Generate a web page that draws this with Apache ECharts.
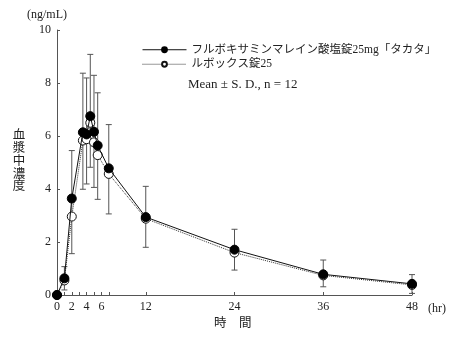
<!DOCTYPE html>
<html><head><meta charset="utf-8">
<script src="https://cdn.jsdelivr.net/npm/echarts@6/dist/echarts.min.js"></script>
<style>html,body{margin:0;padding:0;background:#fff}#c{width:464px;height:340px}</style>
</head><body><div id="c"></div>
<script>
const times = [0, 1, 2, 3.5, 4, 4.5, 5, 5.5, 7, 12, 24, 36, 48];
const meanA = [0, 0.63, 3.64, 6.14, 6.06, 6.75, 6.16, 5.64, 4.78, 2.94, 1.71, 0.78, 0.42];
const meanB = [0, 0.55, 2.96, 5.83, 5.88, 6.5, 5.76, 5.28, 4.57, 2.88, 1.60, 0.74, 0.38];
const sdUpper = [null, 1.07, 5.45, 8.37, 8.19, 9.08, 8.29, 7.63, 6.43, 4.10, 2.48, 1.32, 0.77];
const sdLower = [null, 0.19, 1.56, 3.99, 4.19, 4.82, 4.06, 3.61, 3.06, 1.80, 0.94, 0.31, 0.06];
const xTicks = [0, 1, 2, 3, 4, 5, 6, 7, 12, 24, 36, 48];
const xLabels = [0, 2, 4, 6, 12, 24, 36, 48];
const nameA = 'フルボキサミンマレイン酸塩錠25mg「タカタ」';
const nameB = 'ルボックス錠25';
const yName = ['血', '漿', '中', '濃', '度'];

const FONT = '"Liberation Serif", "DejaVu Serif", "Noto Sans CJK JP", serif';
const chart = echarts.init(document.getElementById('c'));
const errData = times.map((t, i) => [t, sdLower[i], sdUpper[i]]).filter(d => d[1] != null);

const graphics = [
  { type: 'text', left: 27, top: 9, style: { text: '(ng/mL)', font: '12px ' + FONT, fill: '#222' } },
  { type: 'text', left: 428, top: 303, style: { text: '(hr)', font: '12px ' + FONT, fill: '#222' } },
  { type: 'text', left: 214, top: 317, style: { text: '時　間', font: '12.5px ' + FONT, fill: '#222' } },
  { type: 'text', left: 188, top: 78, style: { text: 'Mean ± S. D., n = 12', font: '13px ' + FONT, fill: '#222' } }
];
yName.forEach((ch, i) => {
  graphics.push({ type: 'text', x: 19, y: 136 + i * 12.8, style: { text: ch, font: '12.5px ' + FONT, fill: '#222', align: 'center', verticalAlign: 'middle' } });
});

chart.setOption({
  animation: false,
  textStyle: { fontFamily: FONT, color: '#222' },
  grid: { left: 57, right: 52, top: 30, bottom: 45 },
  legend: {
    left: 137, top: 39, orient: 'vertical', itemGap: 3, itemWidth: 44, itemHeight: 6,
    textStyle: { fontFamily: FONT, fontSize: 11.5, color: '#222' },
    lineStyle: { width: 1 },
    data: [nameA, nameB]
  },
  graphic: graphics,
  xAxis: {
    type: 'value', min: 0, max: 48,
    axisLine: { lineStyle: { color: '#555', width: 1 } },
    splitLine: { show: false },
    axisTick: { inside: true, length: 3, customValues: xTicks, lineStyle: { color: '#555' } },
    axisLabel: { customValues: xLabels, fontFamily: FONT, fontSize: 12, color: '#222', margin: 6 }
  },
  yAxis: {
    type: 'value', min: 0, max: 10, interval: 2,
    axisLine: { show: true, lineStyle: { color: '#555', width: 1 } },
    splitLine: { show: false },
    axisTick: { show: true, inside: true, length: 3, lineStyle: { color: '#555' } },
    axisLabel: { fontFamily: FONT, fontSize: 12, color: '#222', margin: 6 }
  },
  series: [
    {
      type: 'custom', name: 'sd', silent: true, z: 1,
      data: errData,
      renderItem: function (params, api) {
        const x = api.value(0);
        const lo = api.coord([x, api.value(1)]);
        const hi = api.coord([x, api.value(2)]);
        const w = 3;
        const st = { stroke: '#555', lineWidth: 1, fill: null };
        return { type: 'group', children: [
          { type: 'line', shape: { x1: lo[0], y1: lo[1], x2: hi[0], y2: hi[1] }, style: st },
          { type: 'line', shape: { x1: lo[0] - w, y1: lo[1], x2: lo[0] + w, y2: lo[1] }, style: st },
          { type: 'line', shape: { x1: hi[0] - w, y1: hi[1], x2: hi[0] + w, y2: hi[1] }, style: st }
        ]};
      }
    },
    {
      type: 'line', name: nameB, z: 2,
      data: times.map((t, i) => [t, meanB[i]]),
      symbol: 'circle', symbolSize: 9,
      lineStyle: { color: '#333', width: 1, type: 'dotted' },
      itemStyle: { color: '#fff', borderColor: '#111', borderWidth: 1 }
    },
    {
      type: 'line', name: nameA, z: 3,
      data: times.map((t, i) => [t, meanA[i]]),
      symbol: 'circle', symbolSize: 9,
      lineStyle: { color: '#111', width: 1 },
      itemStyle: { color: '#000', borderColor: '#000', borderWidth: 1 }
    }
  ]
});
</script>
</body></html>
